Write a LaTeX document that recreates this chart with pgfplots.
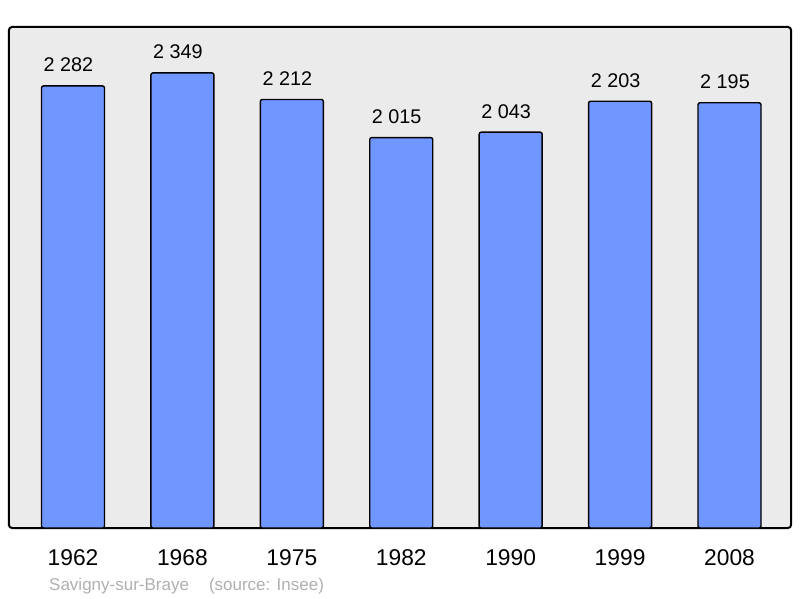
\documentclass[border=0pt]{standalone}
\usepackage{fontspec}
\setmainfont{Liberation Sans}
\usepackage{pgfplots}
\pgfplotsset{compat=1.18}

\definecolor{barblue}{RGB}{112,150,255}
\definecolor{panel}{RGB}{235,235,235}
\definecolor{foot}{RGB}{176,176,176}

\begin{document}
\begin{tikzpicture}[x=1pt,y=1pt]
	\useasboundingbox (0,0) rectangle (800,598);
	\begin{axis}[
		at={(9pt,70pt)}, anchor=south west,
		scale only axis,
		width=782pt, height=501pt,
		xmin=-0.585, xmax=6.562,
		ymin=0, ymax=2586,
		axis background/.style={fill=panel},
		axis line style={line width=2pt, rounded corners=3pt},
		ytick=\empty,
		xtick={0,1,2,3,4,5,6},
		xticklabels={1962,1968,1975,1982,1990,1999,2008},
		major tick length=0pt,
		xticklabel style={font=\fontsize{22.8}{24}\selectfont, anchor=base, yshift=-37.4pt, inner sep=0pt},
		/pgf/number format/assume math mode=true,
		]
		\addplot[ybar, bar width=63pt, fill=barblue, draw=black, line width=1.4pt, rounded corners=2pt,
			nodes near coords,
			every node near coord/.append style={font=\fontsize{19.8}{21}\selectfont, anchor=base, inner sep=0pt, yshift=14pt, xshift=-4.5pt, /pgf/number format/1000 sep={\ }},
			] coordinates {
			(0,2282) (1,2349) (2,2212) (3,2015) (4,2043) (5,2203) (6,2195)
		};
	\end{axis}
	\node[anchor=base west, inner sep=0pt, text=foot, font=\fontsize{17}{18}\selectfont] at (49,7.3) {Savigny-sur-Braye\hspace{20pt}(source: Insee)};
\end{tikzpicture}
\end{document}
